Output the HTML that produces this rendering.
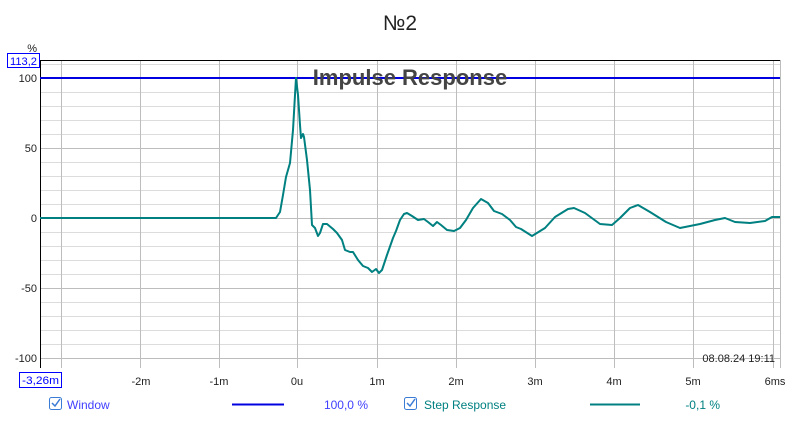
<!DOCTYPE html>
<html><head><meta charset="utf-8"><style>
body{margin:0;background:#fff;width:800px;height:420px;overflow:hidden;font-family:"Liberation Sans",sans-serif}
</style></head><body>
<svg width="800" height="420" xmlns="http://www.w3.org/2000/svg" font-family="Liberation Sans, sans-serif">
<text x="400" y="30" font-size="21" text-anchor="middle" fill="#222">№2</text>
<g stroke="#dcdcdc" stroke-width="1">
<line x1="40" x2="780" y1="92.5" y2="92.5"/><line x1="40" x2="780" y1="106.5" y2="106.5"/><line x1="40" x2="780" y1="120.5" y2="120.5"/><line x1="40" x2="780" y1="134.5" y2="134.5"/>
<line x1="40" x2="780" y1="162.5" y2="162.5"/><line x1="40" x2="780" y1="176.5" y2="176.5"/><line x1="40" x2="780" y1="190.5" y2="190.5"/><line x1="40" x2="780" y1="204.5" y2="204.5"/>
<line x1="40" x2="780" y1="232.5" y2="232.5"/><line x1="40" x2="780" y1="246.5" y2="246.5"/><line x1="40" x2="780" y1="260.5" y2="260.5"/><line x1="40" x2="780" y1="274.5" y2="274.5"/>
<line x1="40" x2="780" y1="302.5" y2="302.5"/><line x1="40" x2="780" y1="316.5" y2="316.5"/><line x1="40" x2="780" y1="330.5" y2="330.5"/><line x1="40" x2="780" y1="344.5" y2="344.5"/>
<line x1="40" x2="780" y1="64.5" y2="64.5"/>
</g>
<g stroke="#bdbdbd" stroke-width="1">
<line x1="40" x2="780" y1="148.5" y2="148.5"/><line x1="40" x2="780" y1="218.5" y2="218.5"/><line x1="40" x2="780" y1="288.5" y2="288.5"/><line x1="40" x2="780" y1="358.5" y2="358.5"/>
<line x1="61.5" x2="61.5" y1="60" y2="368"/><line x1="140.5" x2="140.5" y1="60" y2="368"/><line x1="219.5" x2="219.5" y1="60" y2="368"/><line x1="297.5" x2="297.5" y1="60" y2="368"/><line x1="377.5" x2="377.5" y1="60" y2="368"/><line x1="456.5" x2="456.5" y1="60" y2="368"/><line x1="535.5" x2="535.5" y1="60" y2="368"/><line x1="614.5" x2="614.5" y1="60" y2="368"/><line x1="693.5" x2="693.5" y1="60" y2="368"/><line x1="773.5" x2="773.5" y1="60" y2="368"/>
<line x1="780.5" x2="780.5" y1="60" y2="368"/>
</g>
<line x1="40" x2="780" y1="60.5" y2="60.5" stroke="#000"/>
<line x1="40.5" x2="40.5" y1="60" y2="368" stroke="#000"/>
<line x1="40" x2="780" y1="78" y2="78" stroke="#0000e0" stroke-width="2"/>
<text x="410" y="85" font-size="22" font-weight="bold" text-anchor="middle" fill="#444">Impulse Response</text>
<polyline fill="none" stroke="#008080" stroke-width="2" stroke-linejoin="round" points="40,218 276,218 280,212 283,195 286,177 290,163 293,130 295,95 296,78 298,95 300,125 301,138 303,134 304,137 307,160 310,190 312,225 315,228 318,236 320,233 323,224 327,224 333,229 337,233 342,240 345,250 350,252 353,252 358,260 363,266 368,268 372,272 376,269 379,273 382,270 387,255 393,238 396,231 400,220 404,214 407,213 412,216 418,220 424,219 428,222 433,226 437,222 441,225 447,230 454,231 460,228 466,220 473,208 481,199 488,203 494,211 502,214 510,220 516,227 521,229 532,236 545,228 555,217 568,209 574,208 585,213 600,224 612,225 620,218 630,208 638,205 650,212 666,222 680,228 690,226 700,224 715,220 725,218 735,222 750,223 765,221 772,217 780,217"/>
<g font-size="11" fill="#222" text-anchor="end">
<text x="37" y="82">100</text><text x="37" y="152">50</text><text x="37" y="222">0</text><text x="37" y="292">-50</text><text x="37" y="362">-100</text>
</g>
<text x="37" y="52" font-size="11" fill="#222" text-anchor="end">%</text>
<rect x="7.5" y="53.5" width="32" height="14" fill="#fff" stroke="#00f"/>
<text x="10" y="65" font-size="11" fill="#00f" textLength="27" lengthAdjust="spacingAndGlyphs">113,2</text>
<rect x="19.5" y="372.5" width="42" height="15" fill="#fff" stroke="#00f"/>
<text x="22" y="384" font-size="11" fill="#00f" textLength="37" lengthAdjust="spacingAndGlyphs">-3,26m</text>
<g font-size="11" fill="#222" text-anchor="middle">
<text x="141" y="385">-2m</text><text x="219" y="385">-1m</text><text x="297" y="385">0u</text><text x="377" y="385">1m</text><text x="456" y="385">2m</text><text x="535" y="385">3m</text><text x="614" y="385">4m</text><text x="693" y="385">5m</text><text x="775" y="385">6ms</text>
</g>
<text x="775" y="362" font-size="11" fill="#222" text-anchor="end">08.08.24 19:11</text>
<rect x="49.5" y="397.5" width="12" height="12" rx="2" fill="#fff" stroke="#3a7bd5"/>
<path d="M52 403 l3 3 l5 -7" fill="none" stroke="#3a7bd5" stroke-width="1.5"/>
<text x="67" y="409" font-size="12" fill="#4040ff">Window</text>
<line x1="232" x2="284" y1="404.5" y2="404.5" stroke="#0000e0" stroke-width="2"/>
<text x="368" y="409" font-size="12" fill="#4040ff" text-anchor="end">100,0 %</text>
<rect x="404.5" y="397.5" width="12" height="12" rx="2" fill="#fff" stroke="#3a7bd5"/>
<path d="M407 403 l3 3 l5 -7" fill="none" stroke="#3a7bd5" stroke-width="1.5"/>
<text x="424" y="409" font-size="12" fill="#008080">Step Response</text>
<line x1="590" x2="640" y1="404.5" y2="404.5" stroke="#008080" stroke-width="2"/>
<text x="720" y="409" font-size="12" fill="#008080" text-anchor="end">-0,1 %</text>
</svg>
</body></html>
